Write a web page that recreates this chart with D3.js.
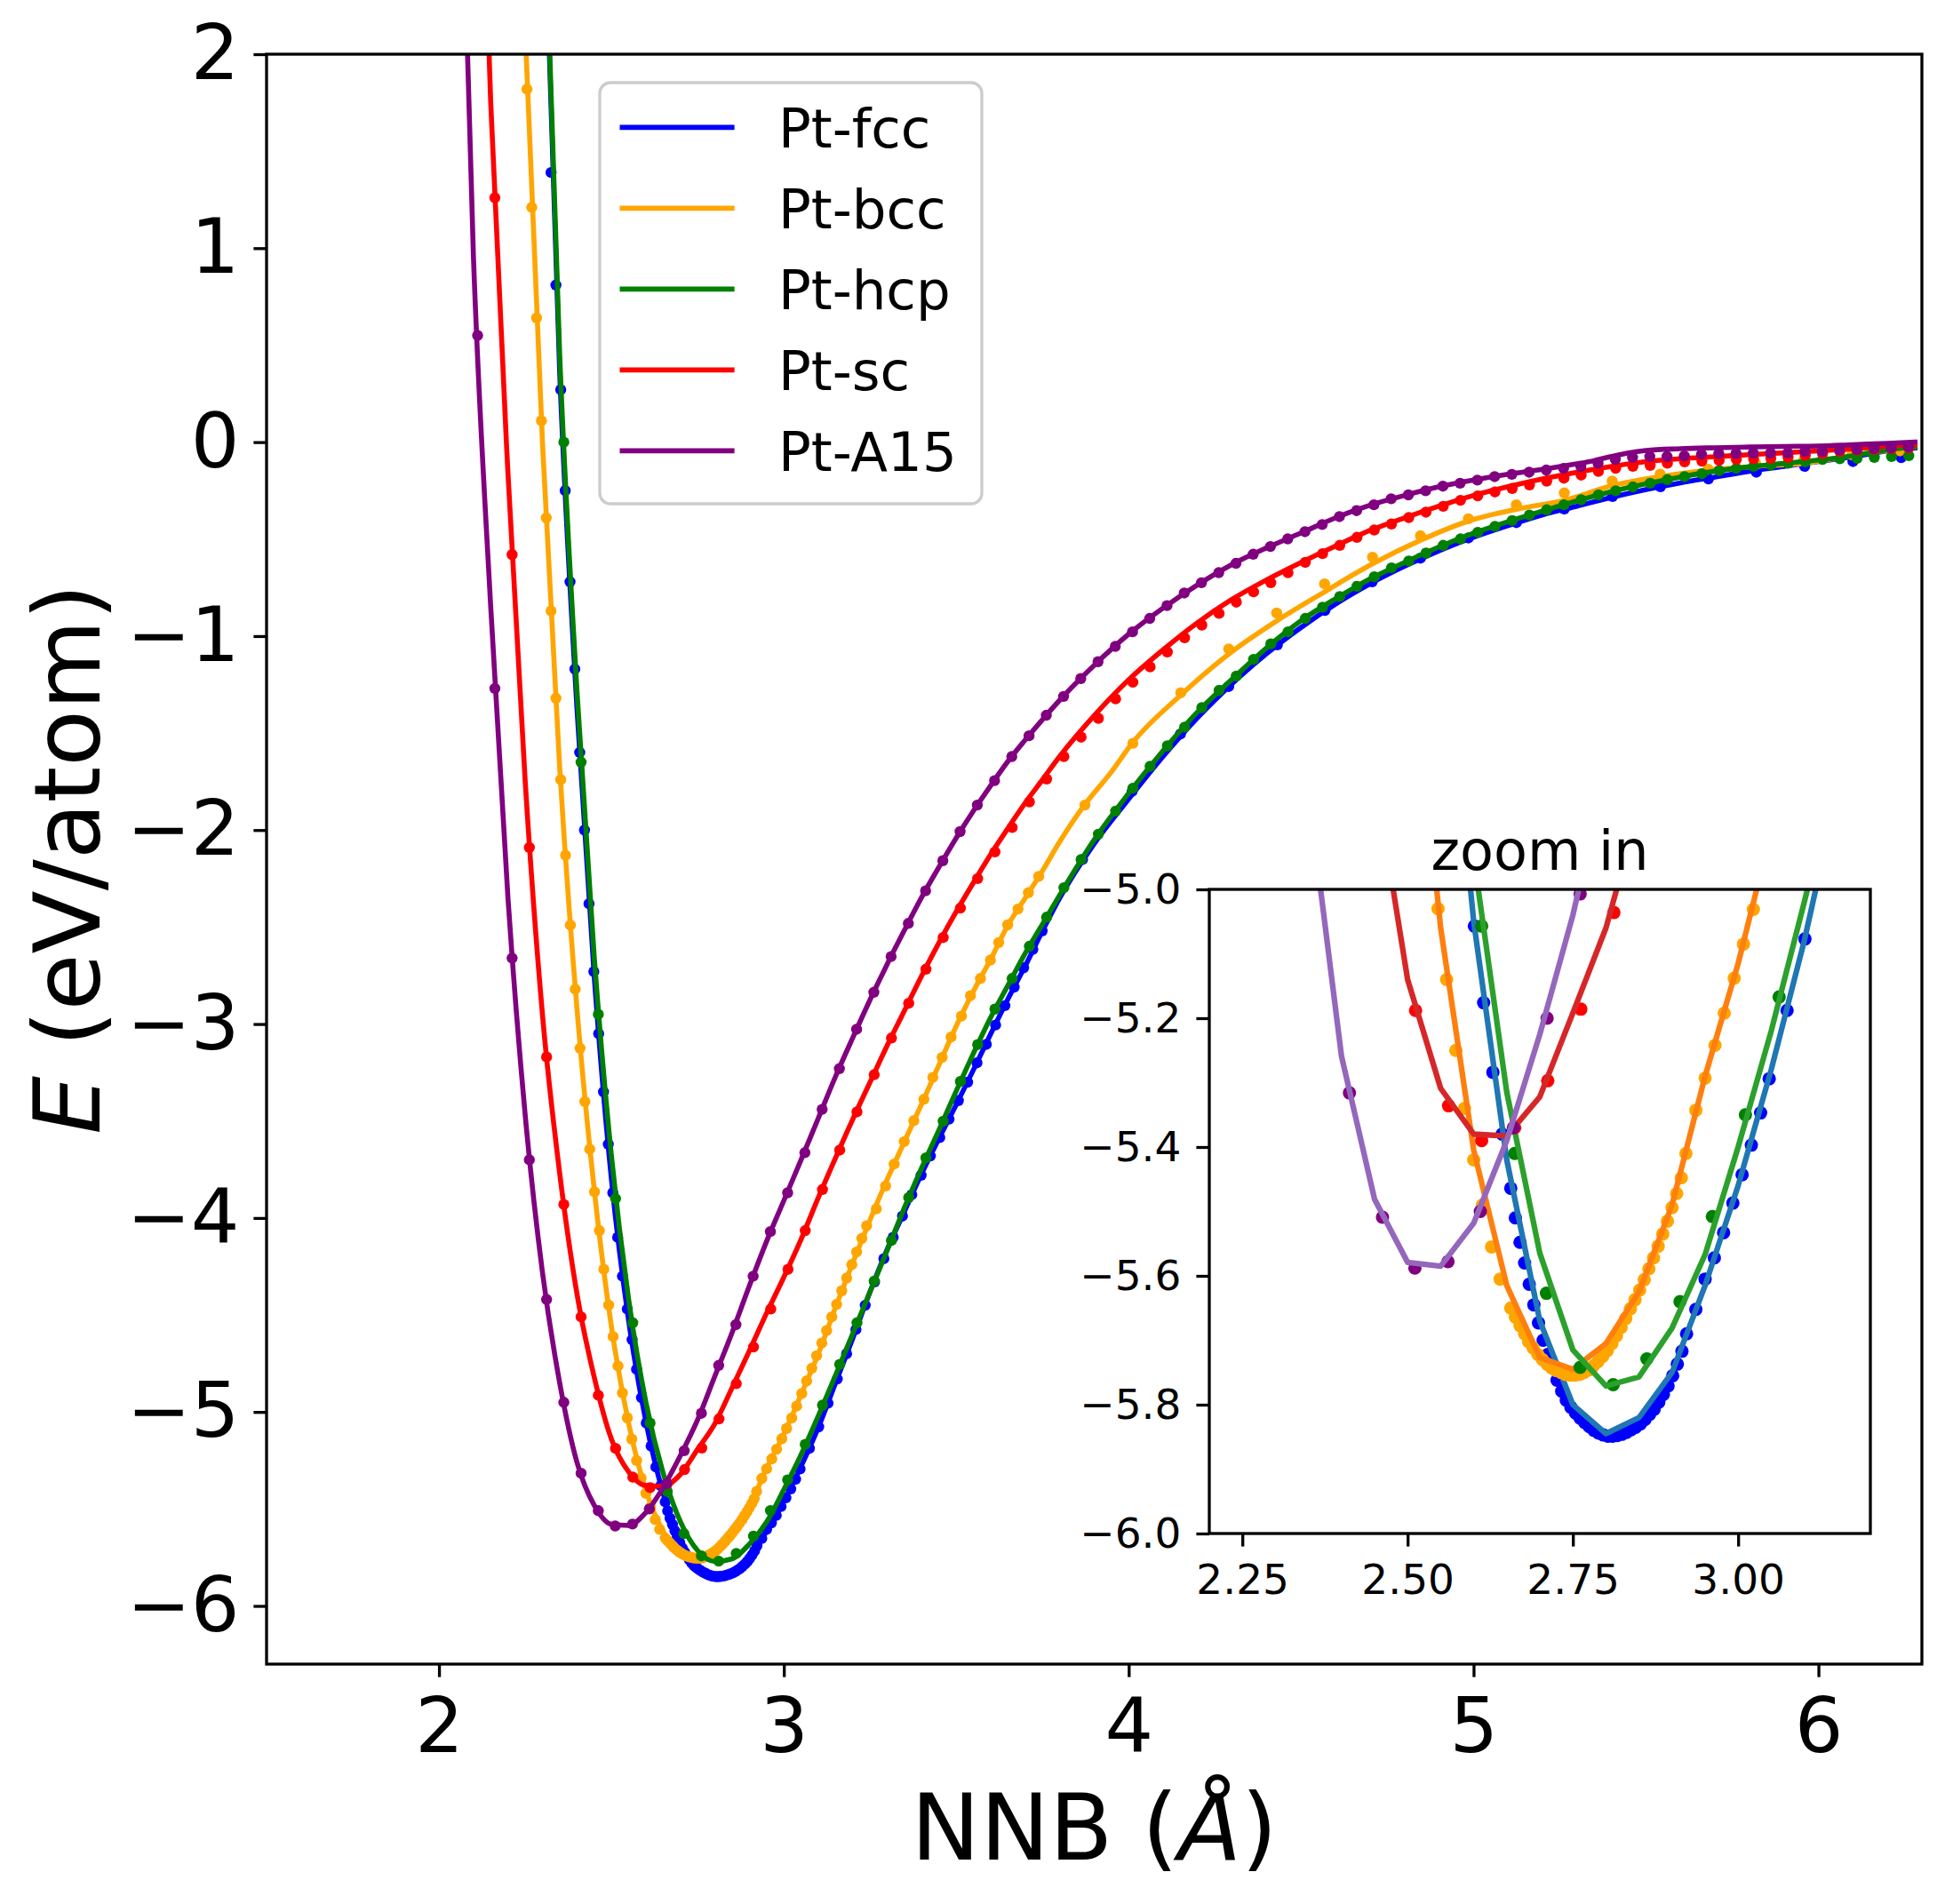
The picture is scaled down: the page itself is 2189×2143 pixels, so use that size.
<!DOCTYPE html>
<html>
<head>
<meta charset="utf-8">
<script src="https://cdn.jsdelivr.net/npm/d3@7"></script>
<style>
  body { margin: 0; background: #fff; }
  svg { display: block; }
  text { font-family: "DejaVu Sans", sans-serif; fill: #000; }
</style>
</head>
<body>
<svg id="chart" width="2189" height="2143"></svg>
<script>
// structures, colours and ticks
const structures = ['Pt-fcc', 'Pt-bcc', 'Pt-hcp', 'Pt-sc', 'Pt-A15'];
const mainColors = ['#0000ff', '#ffa500', '#008000', '#ff0000', '#800080'];
const insetLineColors = ['#1f77b4', '#ff7f0e', '#2ca02c', '#d62728', '#9467bd'];
const xTicks = [2, 3, 4, 5, 6];
const yTicks = [-6, -5, -4, -3, -2, -1, 0, 1, 2];
const insetXTicks = [2.25, 2.5, 2.75, 3.0];
const insetYTicks = [-6.0, -5.8, -5.6, -5.4, -5.2, -5.0];
const xDomain = [1.5, 6.3];
const yDomain = [-6.3, 2];
const insetXDomain = [2.2, 3.2];
const insetYDomain = [-6, -5];

// DFT points [NNB, E]  (markers)
const fccDft = [
  [2.325,1.39],[2.339,0.81],[2.353,0.27],[2.366,-0.25],[2.380,-0.72],[2.394,-1.17],[2.408,-1.60],[2.422,-2.00],
  [2.435,-2.38],[2.449,-2.73],[2.463,-3.05],[2.477,-3.35],[2.491,-3.62],[2.504,-3.87],[2.518,-4.10],[2.532,-4.30],
  [2.546,-4.47],[2.560,-4.628],[2.573,-4.78],[2.587,-4.926],[2.601,-5.057],[2.615,-5.176],[2.629,-5.284],[2.643,-5.380],
  [2.656,-5.464],[2.663,-5.51],[2.670,-5.548],[2.677,-5.58],[2.684,-5.613],[2.691,-5.645],[2.698,-5.673],[2.705,-5.70],
  [2.712,-5.722],[2.719,-5.742],[2.726,-5.762],[2.733,-5.779],[2.740,-5.793],[2.747,-5.804],[2.754,-5.813],[2.761,-5.821],
  [2.768,-5.828],[2.775,-5.834],[2.782,-5.84],[2.789,-5.844],[2.796,-5.847],[2.803,-5.849],[2.810,-5.849],[2.817,-5.848],
  [2.824,-5.846],[2.831,-5.843],[2.838,-5.839],[2.845,-5.835],[2.852,-5.83],[2.859,-5.823],[2.866,-5.815],[2.873,-5.807],
  [2.880,-5.796],[2.887,-5.784],[2.894,-5.771],[2.901,-5.755],[2.908,-5.737],[2.915,-5.717],[2.922,-5.69],[2.936,-5.652],
  [2.950,-5.605],[2.964,-5.572],[2.978,-5.533],[2.992,-5.487],[3.006,-5.443],[3.020,-5.397],[3.034,-5.347],[3.047,-5.294],
  [3.074,-5.188],[3.101,-5.077],[3.128,-4.955],[3.155,-4.83],[3.182,-4.70],[3.209,-4.575],[3.236,-4.45],[3.263,-4.33],
  [3.290,-4.21],[3.317,-4.10],[3.344,-3.99],[3.371,-3.88],[3.398,-3.78],[3.425,-3.68],[3.452,-3.585],[3.479,-3.49],
  [3.506,-3.395],[3.533,-3.30],[3.560,-3.20],[3.587,-3.105],[3.614,-3.005],[3.641,-2.905],[3.668,-2.81],[3.695,-2.71],
  [3.722,-2.615],[3.749,-2.52],[3.866,-2.152],[4.010,-1.80],[4.150,-1.505],[4.290,-1.26],[4.431,-1.045],[4.569,-0.868],
  [4.706,-0.72],[4.846,-0.598],[4.985,-0.494],[5.124,-0.415],[5.263,-0.345],[5.403,-0.28],[5.542,-0.23],[5.681,-0.19],
  [5.820,-0.155],[5.960,-0.125],[6.100,-0.10],[6.240,-0.08]
];
const bccDft = [
  [2.255,1.82],[2.269,1.21],[2.283,0.64],[2.297,0.11],[2.311,-0.39],[2.325,-0.87],[2.339,-1.32],[2.353,-1.74],
  [2.367,-2.13],[2.381,-2.49],[2.395,-2.82],[2.409,-3.125],[2.423,-3.40],[2.437,-3.645],[2.451,-3.865],[2.465,-4.065],
  [2.478,-4.265],[2.492,-4.449],[2.505,-4.612],[2.519,-4.763],[2.532,-4.902],[2.546,-5.03],[2.559,-5.14],[2.573,-5.25],
  [2.586,-5.34],[2.600,-5.42],[2.613,-5.49],[2.627,-5.555],[2.640,-5.605],[2.656,-5.650],[2.663,-5.664],[2.670,-5.677],
  [2.677,-5.690],[2.683,-5.702],[2.690,-5.712],[2.697,-5.722],[2.704,-5.730],[2.711,-5.737],[2.718,-5.743],[2.725,-5.747],
  [2.732,-5.750],[2.739,-5.753],[2.746,-5.754],[2.753,-5.754],[2.760,-5.753],[2.767,-5.750],[2.774,-5.746],[2.781,-5.740],
  [2.788,-5.733],[2.795,-5.725],[2.802,-5.716],[2.809,-5.705],[2.816,-5.693],[2.823,-5.680],[2.830,-5.666],[2.837,-5.651],
  [2.844,-5.637],[2.851,-5.622],[2.858,-5.606],[2.865,-5.589],[2.872,-5.572],[2.879,-5.554],[2.886,-5.535],[2.893,-5.515],
  [2.900,-5.494],[2.907,-5.472],[2.914,-5.448],[2.921,-5.41],[2.936,-5.343],[2.950,-5.293],[2.965,-5.242],[2.979,-5.192],
  [2.994,-5.138],[3.008,-5.085],[3.023,-5.031],[3.037,-4.97],[3.052,-4.905],[3.066,-4.84],[3.081,-4.775],[3.095,-4.71],
  [3.110,-4.645],[3.124,-4.58],[3.139,-4.51],[3.153,-4.445],[3.168,-4.375],[3.182,-4.31],[3.197,-4.24],[3.211,-4.175],
  [3.226,-4.105],[3.240,-4.04],[3.268,-3.953],[3.295,-3.835],[3.320,-3.722],[3.349,-3.606],[3.377,-3.498],[3.406,-3.388],
  [3.432,-3.275],[3.459,-3.172],[3.485,-3.067],[3.515,-2.959],[3.541,-2.854],[3.570,-2.765],[3.599,-2.670],[3.623,-2.580],
  [3.649,-2.489],[3.679,-2.407],[3.709,-2.323],[3.739,-2.239],[3.873,-1.871],[4.012,-1.553],[4.151,-1.292],[4.290,-1.066],
  [4.429,-0.881],[4.568,-0.731],[4.707,-0.593],[4.846,-0.483],[4.985,-0.395],[5.124,-0.323],[5.263,-0.262],[5.402,-0.201],
  [5.541,-0.165],[5.680,-0.14],[5.819,-0.115],[5.958,-0.09],[6.097,-0.065],[6.236,-0.045]
];
const hcpDft = [
  [2.362,0.0],[2.412,-1.65],[2.462,-2.95],[2.512,-3.90],[2.562,-4.54],[2.612,-5.057],[2.662,-5.41],[2.710,-5.627],
  [2.761,-5.742],[2.811,-5.769],[2.862,-5.729],[2.912,-5.640],[2.961,-5.508],[3.011,-5.350],[3.062,-5.167],[3.112,-4.965],
  [3.162,-4.755],[3.212,-4.54],[3.262,-4.325],[3.312,-4.116],[3.362,-3.895],[3.412,-3.690],[3.462,-3.501],[3.512,-3.296],
  [3.562,-3.106],[3.612,-2.923],[3.662,-2.765],[3.712,-2.599],[3.762,-2.449],[3.812,-2.297],[3.862,-2.152],[3.912,-2.021],
  [3.962,-1.902],[4.012,-1.784],[4.062,-1.671],[4.112,-1.566],[4.162,-1.469],[4.212,-1.369],[4.262,-1.280],[4.312,-1.206],
  [4.362,-1.120],[4.412,-1.040],[4.462,-0.978],[4.512,-0.909],[4.562,-0.851],[4.612,-0.796],[4.662,-0.743],[4.712,-0.694],
  [4.762,-0.648],[4.812,-0.613],[4.862,-0.572],[4.912,-0.532],[4.962,-0.499],[5.012,-0.465],[5.062,-0.434],[5.112,-0.404],
  [5.162,-0.376],[5.212,-0.349],[5.262,-0.323],[5.312,-0.297],[5.362,-0.272],[5.412,-0.251],[5.462,-0.231],[5.512,-0.212],
  [5.562,-0.193],[5.612,-0.178],[5.662,-0.163],[5.712,-0.147],[5.762,-0.135],[5.812,-0.125],[5.862,-0.117],[5.912,-0.109],
  [5.962,-0.102],[6.012,-0.089],[6.062,-0.086],[6.112,-0.083],[6.162,-0.079],[6.212,-0.074],[6.262,-0.07]
];
const scDft = [
  [2.162,1.26],[2.212,-0.58],[2.262,-2.09],[2.312,-3.17],[2.362,-3.93],[2.412,-4.51],[2.462,-4.914],[2.512,-5.188],
  [2.562,-5.336],[2.612,-5.390],[2.662,-5.370],[2.712,-5.297],[2.762,-5.186],[2.812,-5.036],[2.862,-4.854],[2.912,-4.665],
  [2.962,-4.469],[3.012,-4.265],[3.062,-4.065],[3.112,-3.853],[3.162,-3.650],[3.212,-3.453],[3.262,-3.261],[3.312,-3.072],
  [3.362,-2.893],[3.412,-2.717],[3.462,-2.554],[3.512,-2.402],[3.562,-2.250],[3.612,-2.113],[3.662,-1.987],[3.712,-1.855],
  [3.762,-1.737],[3.812,-1.621],[3.862,-1.521],[3.912,-1.424],[3.962,-1.324],[4.012,-1.238],[4.062,-1.159],[4.112,-1.082],
  [4.162,-1.009],[4.212,-0.943],[4.262,-0.883],[4.312,-0.825],[4.362,-0.772],[4.412,-0.725],[4.462,-0.673],[4.512,-0.620],
  [4.562,-0.575],[4.612,-0.532],[4.662,-0.491],[4.712,-0.453],[4.762,-0.422],[4.812,-0.389],[4.862,-0.361],[4.912,-0.331],
  [4.962,-0.300],[5.012,-0.277],[5.062,-0.257],[5.112,-0.239],[5.162,-0.221],[5.212,-0.201],[5.262,-0.186],[5.312,-0.170],
  [5.362,-0.151],[5.412,-0.135],[5.462,-0.125],[5.512,-0.120],[5.562,-0.109],[5.612,-0.102],[5.662,-0.098],[5.712,-0.094],
  [5.762,-0.089],[5.812,-0.086],[5.862,-0.083],[5.912,-0.079],[5.962,-0.068],[6.012,-0.059],[6.062,-0.048],[6.112,-0.041],
  [6.162,-0.038],[6.212,-0.033],[6.262,-0.03]
];
const a15Dft = [
  [2.112,0.55],[2.162,-1.27],[2.212,-2.66],[2.262,-3.70],[2.312,-4.42],[2.362,-4.95],[2.412,-5.316],[2.462,-5.509],
  [2.511,-5.588],[2.561,-5.578],[2.610,-5.50],[2.660,-5.37],[2.711,-5.20],[2.761,-5.007],[2.811,-4.76],[2.861,-4.55],
  [2.911,-4.30],[2.961,-4.07],[3.011,-3.87],[3.061,-3.663],[3.111,-3.440],[3.161,-3.230],[3.211,-3.027],[3.261,-2.836],
  [3.311,-2.652],[3.361,-2.481],[3.411,-2.313],[3.461,-2.158],[3.511,-2.008],[3.561,-1.871],[3.611,-1.745],[3.661,-1.621],
  [3.711,-1.514],[3.761,-1.408],[3.811,-1.311],[3.861,-1.219],[3.911,-1.132],[3.961,-1.053],[4.011,-0.978],[4.061,-0.909],
  [4.111,-0.843],[4.161,-0.778],[4.211,-0.725],[4.261,-0.673],[4.311,-0.625],[4.361,-0.578],[4.411,-0.538],[4.461,-0.499],
  [4.511,-0.462],[4.561,-0.425],[4.611,-0.384],[4.661,-0.353],[4.711,-0.323],[4.761,-0.292],[4.811,-0.272],[4.861,-0.251],
  [4.911,-0.227],[4.961,-0.212],[5.011,-0.196],[5.061,-0.178],[5.111,-0.166],[5.161,-0.155],[5.211,-0.144],[5.261,-0.135],
  [5.311,-0.125],[5.361,-0.109],[5.411,-0.089],[5.461,-0.079],[5.511,-0.074],[5.561,-0.074],[5.611,-0.071],[5.661,-0.063],
  [5.711,-0.059],[5.761,-0.059],[5.811,-0.056],[5.861,-0.056],[5.911,-0.056],[5.961,-0.048],[6.011,-0.048],[6.061,-0.041],
  [6.111,-0.038],[6.161,-0.033],[6.211,-0.03],[6.261,-0.025]
];

// fitted curves [NNB, E]  (lines)
const fccFit = [
  [2.30,3.10],[2.35,0.36],[2.40,-1.37],[2.45,-2.75],[2.50,-3.80],[2.55,-4.53],[2.60,-5.05],[2.65,-5.42],[2.70,-5.67],
  [2.75,-5.80],[2.80,-5.845],[2.85,-5.82],[2.90,-5.75],[2.95,-5.615],[3.00,-5.46],[3.05,-5.28],[3.10,-5.08],[3.15,-4.85],
  [3.20,-4.62],[3.25,-4.38],[3.30,-4.16],[3.35,-3.965],[3.40,-3.77],[3.45,-3.59],[3.50,-3.415],[3.55,-3.235],[3.60,-3.05],
  [3.65,-2.87],[3.70,-2.70],[3.75,-2.52],[3.80,-2.35],[3.90,-2.07],[4.00,-1.84],[4.10,-1.62],[4.20,-1.42],[4.30,-1.245],
  [4.40,-1.09],[4.50,-0.955],[4.60,-0.835],[4.70,-0.73],[4.80,-0.64],[4.90,-0.56],[5.00,-0.49],[5.10,-0.43],[5.20,-0.375],
  [5.30,-0.33],[5.40,-0.285],[5.50,-0.245],[5.60,-0.21],[5.70,-0.18],[5.80,-0.15],[5.90,-0.125],[6.00,-0.10],[6.10,-0.075],
  [6.20,-0.045],[6.28,-0.03]
];
const bccFit = [
  [2.20,4.70],[2.25,2.12],[2.30,0.0],[2.35,-1.68],[2.40,-2.92],[2.45,-3.85],[2.50,-4.56],[2.55,-5.06],[2.60,-5.405],
  [2.65,-5.615],[2.70,-5.727],[2.75,-5.745],[2.80,-5.705],[2.85,-5.625],[2.90,-5.49],[2.95,-5.29],[3.00,-5.115],[3.05,-4.91],
  [3.10,-4.70],[3.15,-4.46],[3.20,-4.23],[3.25,-4.01],[3.30,-3.80],[3.35,-3.605],[3.40,-3.41],[3.45,-3.21],[3.50,-3.01],
  [3.55,-2.83],[3.60,-2.665],[3.65,-2.49],[3.70,-2.35],[3.75,-2.21],[3.80,-2.06],[3.87,-1.875],[3.948,-1.704],[4.010,-1.552],
  [4.149,-1.307],[4.289,-1.094],[4.428,-0.923],[4.567,-0.773],[4.706,-0.628],[4.846,-0.506],[4.985,-0.407],[5.124,-0.346],
  [5.263,-0.30],[5.403,-0.224],[5.542,-0.178],[5.681,-0.144],[5.820,-0.125],[5.960,-0.109],[6.114,-0.064],[6.28,-0.025]
];
const hcpFit = [
  [2.30,3.15],[2.35,0.45],[2.40,-1.28],[2.45,-2.65],[2.50,-3.68],[2.55,-4.42],[2.60,-4.95],[2.65,-5.315],[2.70,-5.565],
  [2.75,-5.715],[2.80,-5.771],[2.85,-5.757],[2.90,-5.681],[2.95,-5.567],[3.00,-5.40],[3.05,-5.22],[3.10,-5.02],[3.15,-4.81],
  [3.20,-4.595],[3.25,-4.38],[3.30,-4.165],[3.35,-3.945],[3.40,-3.74],[3.45,-3.545],[3.50,-3.345],[3.55,-3.15],[3.60,-2.965],
  [3.65,-2.80],[3.70,-2.635],[3.75,-2.485],[3.80,-2.335],[3.90,-2.05],[4.00,-1.81],[4.10,-1.59],[4.20,-1.39],[4.30,-1.222],
  [4.40,-1.06],[4.50,-0.92],[4.60,-0.807],[4.70,-0.705],[4.80,-0.62],[4.90,-0.54],[5.00,-0.47],[5.10,-0.41],[5.20,-0.355],
  [5.30,-0.303],[5.40,-0.255],[5.50,-0.215],[5.60,-0.18],[5.70,-0.15],[5.80,-0.127],[5.90,-0.11],[6.00,-0.092],[6.10,-0.07],
  [6.20,-0.04],[6.28,-0.025]
];
const scFit = [
  [2.10,4.40],[2.15,1.75],[2.20,-0.16],[2.25,-1.75],[2.30,-2.95],[2.35,-3.77],[2.40,-4.39],[2.45,-4.82],[2.50,-5.14],
  [2.55,-5.309],[2.60,-5.38],[2.65,-5.383],[2.70,-5.322],[2.75,-5.192],[2.80,-5.06],[2.85,-4.875],[2.90,-4.685],[2.95,-4.49],
  [3.00,-4.305],[3.05,-4.11],[3.10,-3.895],[3.15,-3.69],[3.20,-3.49],[3.25,-3.30],[3.30,-3.11],[3.35,-2.93],[3.40,-2.75],
  [3.45,-2.58],[3.50,-2.42],[3.55,-2.27],[3.60,-2.125],[3.65,-1.99],[3.70,-1.86],[3.75,-1.74],[3.80,-1.62],[3.90,-1.41],
  [4.00,-1.225],[4.10,-1.07],[4.20,-0.93],[4.30,-0.81],[4.40,-0.71],[4.50,-0.62],[4.60,-0.535],[4.70,-0.455],[4.80,-0.39],
  [4.90,-0.33],[5.00,-0.275],[5.10,-0.23],[5.20,-0.19],[5.30,-0.155],[5.40,-0.125],[5.50,-0.10],[5.60,-0.085],[5.70,-0.075],
  [5.80,-0.065],[5.90,-0.055],[6.00,-0.045],[6.10,-0.035],[6.20,-0.02],[6.28,-0.012]
];
const a15Fit = [
  [2.05,4.00],[2.10,0.95],[2.15,-0.85],[2.20,-2.35],[2.25,-3.47],[2.30,-4.28],[2.35,-4.85],[2.40,-5.259],[2.45,-5.481],
  [2.50,-5.579],[2.55,-5.585],[2.60,-5.518],[2.65,-5.39],[2.70,-5.225],[2.75,-5.04],[2.80,-4.815],[2.85,-4.59],[2.90,-4.35],
  [2.95,-4.12],[3.00,-3.91],[3.05,-3.70],[3.10,-3.485],[3.15,-3.27],[3.20,-3.07],[3.25,-2.875],[3.30,-2.69],[3.35,-2.515],
  [3.40,-2.345],[3.45,-2.19],[3.50,-2.04],[3.55,-1.90],[3.60,-1.77],[3.65,-1.645],[3.70,-1.535],[3.75,-1.43],[3.80,-1.33],
  [3.90,-1.15],[4.00,-0.99],[4.10,-0.855],[4.20,-0.735],[4.30,-0.63],[4.40,-0.545],[4.50,-0.468],[4.60,-0.39],[4.70,-0.325],
  [4.80,-0.275],[4.90,-0.23],[5.00,-0.195],[5.10,-0.165],[5.20,-0.14],[5.30,-0.112],[5.35,-0.095],[5.40,-0.074],[5.45,-0.055],
  [5.50,-0.043],[5.60,-0.034],[5.70,-0.029],[5.80,-0.025],[5.90,-0.022],[6.00,-0.02],[6.10,-0.013],[6.20,-0.006],[6.28,0.0]
];

const dftSets = [fccDft, bccDft, hcpDft, scDft, a15Dft];
const fitSets = [fccFit, bccFit, hcpFit, scFit, a15Fit];
const series = structures.map((name, i) => ({
  name, dft: dftSets[i], fit: fitSets[i], color: mainColors[i], insetColor: insetLineColors[i]
}));

const svg = d3.select('#chart');
const FONT = '"DejaVu Sans", sans-serif';
const minus = (s) => String(s).replace('-', '\u2212');

// main axes box
const plot = { left: 300, right: 2163, top: 61, bottom: 1873 };
const x = d3.scaleLinear().domain(xDomain).range([plot.left, plot.right]);
const y = d3.scaleLinear().domain(yDomain).range([plot.bottom, plot.top]);

// inset box
const box = { left: 1361, right: 2105, top: 1001, bottom: 1726 };
const ix = d3.scaleLinear().domain(insetXDomain).range([box.left, box.right]);
const iy = d3.scaleLinear().domain(insetYDomain).range([box.bottom, box.top]);

const defs = svg.append('defs');
defs.append('clipPath').attr('id', 'clipMain').append('rect')
  .attr('x', plot.left).attr('y', plot.top)
  .attr('width', plot.right - plot.left).attr('height', plot.bottom - plot.top);
defs.append('clipPath').attr('id', 'clipInset').append('rect')
  .attr('x', box.left).attr('y', box.top)
  .attr('width', box.right - box.left).attr('height', box.bottom - box.top);

function drawCurves(g, xs, ys, opt) {
  series.forEach(s => {
    g.append('g').selectAll('circle')
      .data(s.dft)
      .enter()
      .append('circle')
      .attr('cx', d => xs(d[0]))
      .attr('cy', d => ys(d[1]))
      .attr('r', opt.r)
      .attr('fill', s.color);

    const line = d3.line()
      .x(d => xs(d[0]))
      .y(d => ys(d[1]))
      .curve(opt.curve);

    g.append('path')
      .datum(s.fit)
      .attr('d', line)
      .attr('fill', 'none')
      .attr('stroke', opt.inset ? s.insetColor : s.color)
      .attr('stroke-width', opt.lw)
      .attr('stroke-linejoin', 'round')
      .attr('stroke-linecap', 'square');
  });
}

// ---- main panel
svg.append('rect').attr('x', plot.left).attr('y', plot.top)
  .attr('width', plot.right - plot.left).attr('height', plot.bottom - plot.top)
  .attr('fill', '#fff');

const mainG = svg.append('g').attr('clip-path', 'url(#clipMain)');
drawCurves(mainG, x, y, { r: 6.2, lw: 5.6, curve: d3.curveMonotoneX, inset: false });

const xAxis = svg.append('g')
  .attr('transform', `translate(0,${plot.bottom})`)
  .call(d3.axisBottom(x).tickValues(xTicks).tickSize(14.6).tickPadding(23).tickFormat(d => minus(d)));
const yAxis = svg.append('g')
  .attr('transform', `translate(${plot.left},0)`)
  .call(d3.axisLeft(y).tickValues(yTicks).tickSize(14.6).tickPadding(16).tickFormat(d => minus(d)));

[xAxis, yAxis].forEach(a => {
  a.select('.domain').remove();
  a.attr('font-family', FONT).attr('font-size', 86);
  a.selectAll('line').attr('stroke', '#000').attr('stroke-width', 3.3);
  a.selectAll('text').attr('fill', '#000');
});

svg.append('rect').attr('x', plot.left).attr('y', plot.top)
  .attr('width', plot.right - plot.left).attr('height', plot.bottom - plot.top)
  .attr('fill', 'none').attr('stroke', '#000').attr('stroke-width', 3.3);

// axis labels
const xl = svg.append('text')
  .attr('x', (plot.left + plot.right) / 2).attr('y', 2093)
  .attr('text-anchor', 'middle').attr('font-size', 104);
xl.append('tspan').text('NNB (');
xl.append('tspan').attr('font-style', 'italic').text('\u00c5');
xl.append('tspan').text(')');

const yl = svg.append('text')
  .attr('transform', `translate(112,${(plot.top + plot.bottom) / 2}) rotate(-90)`)
  .attr('text-anchor', 'middle').attr('font-size', 104);
yl.append('tspan').attr('font-style', 'italic').text('E');
yl.append('tspan').text(' (eV/atom)');

// legend
const leg = { x: 675, y: 93, w: 430, h: 474 };
svg.append('rect')
  .attr('x', leg.x).attr('y', leg.y).attr('width', leg.w).attr('height', leg.h)
  .attr('rx', 12).attr('ry', 12)
  .attr('fill', '#fff').attr('fill-opacity', 0.8)
  .attr('stroke', '#cccccc').attr('stroke-width', 3.3);

const rowY = d3.scaleLinear().domain([0, structures.length - 1]).range([143.4, 507.4]);
const legRows = svg.append('g').selectAll('g')
  .data(series)
  .enter()
  .append('g')
  .attr('transform', (d, i) => `translate(0,${rowY(i)})`);
legRows.append('line')
  .attr('x1', 697.5).attr('x2', 826.6)
  .attr('stroke', d => d.color).attr('stroke-width', 5.8);
legRows.append('text')
  .attr('x', 876).attr('y', 22.3)
  .attr('font-size', 61)
  .text(d => d.name);

// ---- inset panel
svg.append('rect').attr('x', box.left).attr('y', box.top)
  .attr('width', box.right - box.left).attr('height', box.bottom - box.top)
  .attr('fill', '#fff');

const insetG = svg.append('g').attr('clip-path', 'url(#clipInset)');
drawCurves(insetG, ix, iy, { r: 7.5, lw: 6.3, curve: d3.curveLinear, inset: true });

const ixAxis = svg.append('g')
  .attr('transform', `translate(0,${box.bottom})`)
  .call(d3.axisBottom(ix).tickValues(insetXTicks).tickSize(14.6).tickPadding(20).tickFormat(d => d.toFixed(2)));
const iyAxis = svg.append('g')
  .attr('transform', `translate(${box.left},0)`)
  .call(d3.axisLeft(iy).tickValues(insetYTicks).tickSize(14.6).tickPadding(17).tickFormat(d => minus(d.toFixed(1))));

[ixAxis, iyAxis].forEach(a => {
  a.select('.domain').remove();
  a.attr('font-family', FONT).attr('font-size', 47);
  a.selectAll('line').attr('stroke', '#000').attr('stroke-width', 3.3);
  a.selectAll('text').attr('fill', '#000');
});

svg.append('rect').attr('x', box.left).attr('y', box.top)
  .attr('width', box.right - box.left).attr('height', box.bottom - box.top)
  .attr('fill', 'none').attr('stroke', '#000').attr('stroke-width', 3.3);

svg.append('text')
  .attr('x', (box.left + box.right) / 2).attr('y', 979)
  .attr('text-anchor', 'middle').attr('font-size', 62)
  .text('zoom in');
</script>
</body>
</html>
